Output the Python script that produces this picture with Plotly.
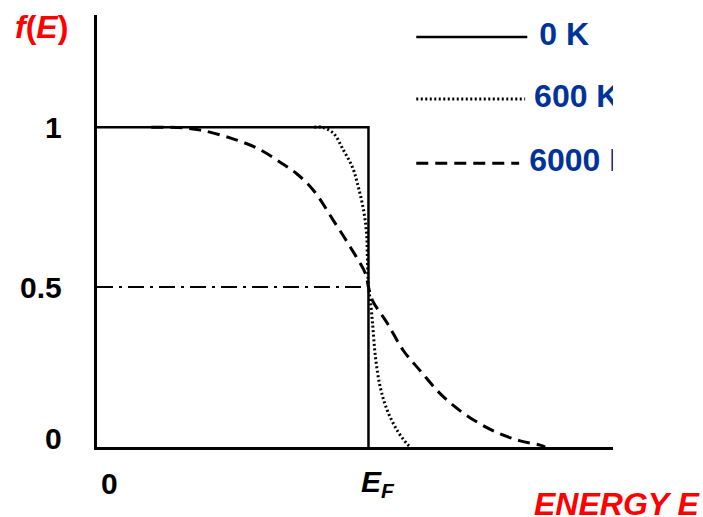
import plotly.graph_objects as go

# ---------------- data (E in units of E_F, f(E) dimensionless) ----------------
e_0k = [0.0, 1.0, 1.0]
f_0k = [1.0, 1.0, 0.0]

e_600k = [0.80, 0.83, 0.871, 0.908, 0.941, 0.963, 0.982, 0.993, 0.996, 1.0,
          1.007, 1.015, 1.026, 1.044, 1.070, 1.107, 1.143, 1.155]
f_600k = [1.0, 1.0, 0.981, 0.928, 0.875, 0.812, 0.740, 0.668, 0.592, 0.5,
          0.458, 0.386, 0.279, 0.185, 0.113, 0.050, 0.009, 0.0]

e_6000k = [0.20, 0.297, 0.382, 0.493, 0.591, 0.676, 0.738, 0.80, 0.871, 0.934,
           0.989, 1.0, 1.015, 1.070, 1.129, 1.191, 1.265, 1.338, 1.412, 1.485,
           1.559, 1.632, 1.651]
f_6000k = [1.0, 0.999, 0.991, 0.966, 0.934, 0.890, 0.853, 0.80, 0.708, 0.624,
           0.542, 0.5, 0.458, 0.386, 0.301, 0.238, 0.166, 0.113, 0.072, 0.041,
           0.019, 0.006, 0.0]

e_half = [0.0, 1.0]
f_half = [0.5, 0.5]

legend_labels = ["0 K", "600 K", "6000 K"]
legend_y = [1.282, 1.088, 0.887]
legend_x0 = [1.176, 1.176, 1.176]
legend_x1 = [1.585, 1.577, 1.555]
legend_tx = [1.629, 1.610, 1.592]

y_tick_vals = [1, 0.5, 0]
y_tick_text = ["1", "0.5", "0"]
x_tick_vals = [0, 1]
x_tick_text = ["0", "<i>E</i><sub><i>F</i></sub>"]

X_RANGE = [0, 1.9007]
Y_RANGE = [0, 1.351]

FONT = "Liberation Sans, Arial, sans-serif"
BLUE = "#003399"
RED = "#ff0000"
DOT = "2px,2.5px"
DASH = "12px,7px"

fig = go.Figure()

fig.add_trace(go.Scatter(x=e_half, y=f_half, mode="lines",
                         line=dict(color="black", width=2, dash="16px,6px,3px,6px")))
fig.add_trace(go.Scatter(x=e_6000k, y=f_6000k, mode="lines", line_shape="spline",
                         line=dict(color="black", width=3, dash=DASH)))
fig.add_trace(go.Scatter(x=e_600k, y=f_600k, mode="lines", line_shape="spline",
                         line=dict(color="black", width=3, dash=DOT)))
fig.add_trace(go.Scatter(x=e_0k, y=f_0k, mode="lines",
                         line=dict(color="black", width=2.5)))

legend_dash = ["solid", DOT, DASH]
for i, lab in enumerate(legend_labels):
    fig.add_trace(go.Scatter(x=[legend_x0[i], legend_x1[i]], y=[legend_y[i]] * 2,
                             mode="lines",
                             line=dict(color="black", width=2.5 if i == 0 else 3,
                                       dash=legend_dash[i])))
    fig.add_trace(go.Scatter(x=[legend_tx[i]], y=[legend_y[i]], mode="text",
                             text=[lab], textposition="middle right",
                             cliponaxis=True,
                             textfont=dict(family=FONT, size=32, color=BLUE, weight="bold")))

annotations = []
for v, t in zip(y_tick_vals, y_tick_text):
    annotations.append(dict(x=-0.064, xref="paper", y=v, yref="y", text=t,
                            xanchor="right", yanchor="middle", showarrow=False,
                            yshift=9 if v == 0 else 0,
                            font=dict(family=FONT, size=30, color="black", weight="bold")))
for v, t in zip(x_tick_vals, x_tick_text):
    annotations.append(dict(x=v, xref="x", y=-0.085, yref="paper", text=t,
                            xanchor="left", yanchor="middle", showarrow=False,
                            xshift=2 if v == 0 else -9,
                            font=dict(family=FONT, size=30, color="black", weight="bold")))
annotations.append(dict(x=-0.163, xref="paper", y=0.972, yref="paper",
                        text="<i>f</i>(<i>E</i>)", xanchor="left", yanchor="middle",
                        showarrow=False,
                        font=dict(family=FONT, size=32, color=RED, weight="bold")))
annotations.append(dict(x=1.172, xref="paper", y=-0.132, yref="paper",
                        text="<i>ENERGY E</i>", xanchor="right", yanchor="middle",
                        showarrow=False,
                        font=dict(family=FONT, size=32, color=RED, weight="bold")))

fig.update_layout(
    width=703, height=517,
    margin=dict(l=97, r=90, t=15, b=70),
    paper_bgcolor="white", plot_bgcolor="white",
    showlegend=False,
    annotations=annotations,
    xaxis=dict(range=X_RANGE, showgrid=False, zeroline=False, showticklabels=False,
               ticks="", showline=True, linecolor="black", linewidth=3, fixedrange=True),
    yaxis=dict(range=Y_RANGE, showgrid=False, zeroline=False, showticklabels=False,
               ticks="", showline=True, linecolor="black", linewidth=3, fixedrange=True),
)

fig.write_html("out.html")
